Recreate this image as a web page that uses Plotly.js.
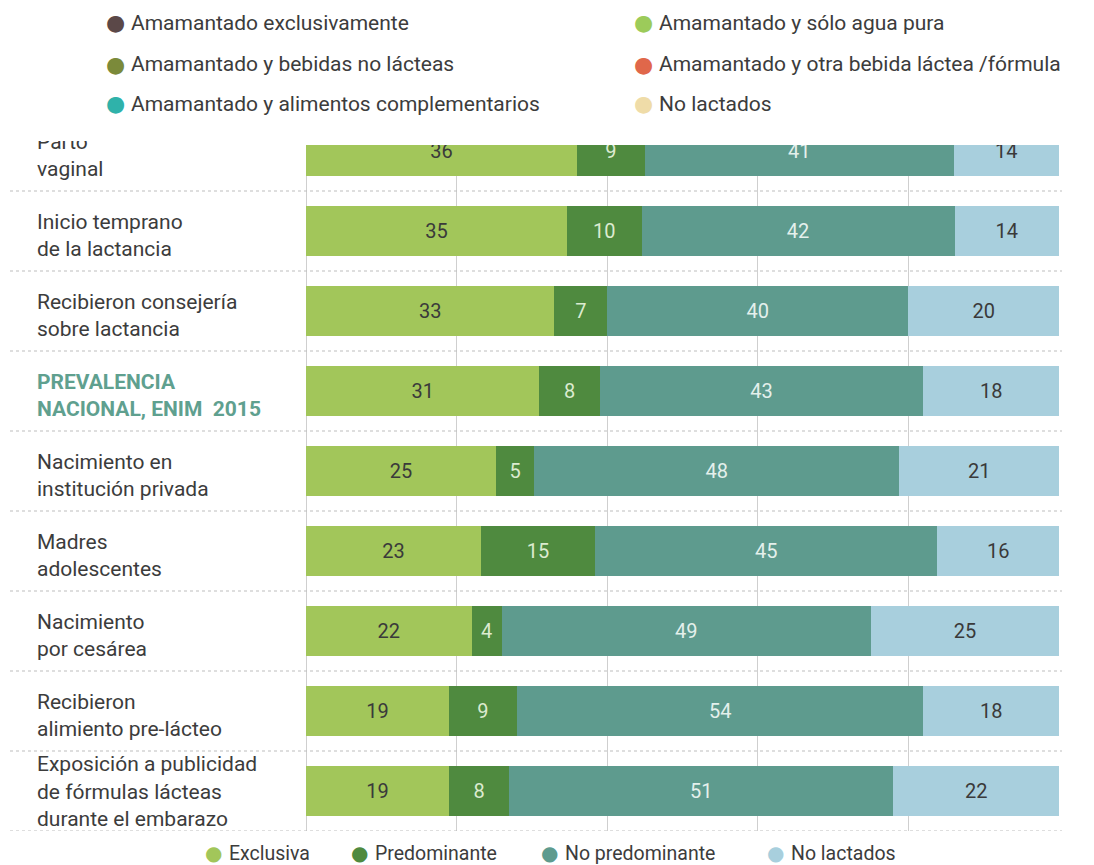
<!DOCTYPE html>
<html>
<head>
<meta charset="utf-8">
<script src="https://cdn.plot.ly/plotly-3.0.1.min.js"></script>
<style>html,body{margin:0;padding:0;background:#fff;}#chart{width:1094px;height:865px;}</style>
</head>
<body>
<div id="chart"></div>
<script>
// ---- data ----
const rowLabels = [
  "Parto<br>vaginal",
  "Inicio temprano<br>de la lactancia",
  "Recibieron consejería<br>sobre lactancia",
  "<b>PREVALENCIA<br>NACIONAL, ENIM  2015</b>",
  "Nacimiento en<br>institución privada",
  "Madres<br>adolescentes",
  "Nacimiento<br>por cesárea",
  "Recibieron<br>alimiento pre-lácteo",
  "Exposición a publicidad<br>de fórmulas lácteas<br>durante el embarazo"
];
const exclusiva      = [36, 35, 33, 31, 25, 23, 22, 19, 19];
const predominante   = [9, 10, 7, 8, 5, 15, 4, 9, 8];
const noPredominante = [41, 42, 40, 43, 48, 45, 49, 54, 51];
const noLactados     = [14, 14, 20, 18, 21, 16, 25, 18, 22];
const seriesNames = ["Exclusiva", "Predominante", "No predominante", "No lactados"];
const topLegendNames = [
  "Amamantado exclusivamente", "Amamantado y sólo agua pura",
  "Amamantado y bebidas no lácteas", "Amamantado y otra bebida láctea /fórmula",
  "Amamantado y alimentos complementarios", "No lactados"
];
const xTicks = [0, 20, 40, 60, 80, 100];

// ---- styling ----
const FONT = "Roboto, 'Noto Sans', sans-serif";
const colors = ["#a2c65a", "#4f8a3f", "#5e9b8e", "#a8cfdd"];
const textColors = ["#3a3a3a", "#dcebd0", "#e4f0ec", "#3a3a3a"];
const topDotColors = ["#5b4848", "#9ccb5a", "#7b8a3a", "#e0674a", "#2fb2aa", "#efdca8"];
const labelColors = rowLabels.map((l, i) => i === 3 ? "#5fa08f" : "#3c3c3c");

const series = [exclusiva, predominante, noPredominante, noLactados];
const totals = exclusiva.map((_, i) => series.reduce((s, a) => s + a[i], 0));
const rows = rowLabels.map((_, i) => i);

// geometry (pixels)
const H = 865, T = 130, B = 34;
const plotH = H - T - B;              // 701
const barTop = 145, labelTop = 141;   // clip tops for bars / labels
const pitch = 80;                     // px per row
const yBottom = 8.5;
const yTopMain = yBottom - (H - B - barTop) / pitch;
const yTopLab = yBottom - (H - B - labelTop) / pitch;
const py = p => (H - B - p) / plotH;
const labelShift = rowLabels.map(l => (l.split("<br>").length > 2 ? 0.03 : 0.08));

const traces = series.map((vals, k) => ({
  type: "bar",
  orientation: "h",
  name: seriesNames[k],
  y: rows,
  x: vals.map((v, i) => v / totals[i] * 100),
  text: vals.map(String),
  texttemplate: "%{text}",
  textposition: "inside",
  insidetextanchor: "middle",
  textangle: 0,
  constraintext: "none",
  textfont: {family: FONT, size: 20, color: textColors[k]},
  marker: {color: colors[k], line: {width: 0}},
  width: 0.625,
  hoverinfo: "skip",
  showlegend: false,
  xaxis: "x",
  yaxis: "y"
}));

traces.push({
  type: "scatter",
  mode: "text",
  x: rows.map(() => 37),
  y: rows.map(i => i + labelShift[i]),
  text: rowLabels,
  textposition: "middle right",
  textfont: {family: FONT, size: 21, color: labelColors},
  hoverinfo: "skip",
  showlegend: false,
  xaxis: "x2",
  yaxis: "y2",
  cliponaxis: true
});

const shapes = [];
for (let i = 0; i < rowLabels.length; i++) {
  shapes.push({type: "line", xref: "x2", yref: "y2", x0: 10, x1: 1062, y0: i + 0.5, y1: i + 0.5,
    line: {color: "#bdbdbd", width: 1, dash: "dot"}, layer: "below"});
}

const annotations = [];
const topRowsY = [23, 64, 104];
topLegendNames.forEach((name, i) => {
  const col = i % 2, row = Math.floor(i / 2);
  const dx = col === 0 ? 115 : 643;
  annotations.push({xref: "x2", yref: "paper", x: dx, y: py(topRowsY[row]), text: "●", showarrow: false,
    xanchor: "center", yanchor: "middle", borderpad: 0, font: {family: "DejaVu Sans", size: 22, color: topDotColors[i]}});
  annotations.push({xref: "x2", yref: "paper", x: dx + 15, y: py(topRowsY[row]), text: name, showarrow: false,
    xanchor: "left", yanchor: "middle", borderpad: 0, font: {family: FONT, size: 21, color: "#3c3c3c"}});
});
const botX = [213, 359, 549, 775];
seriesNames.forEach((name, k) => {
  annotations.push({xref: "x2", yref: "paper", x: botX[k], y: py(853), text: "●", showarrow: false,
    xanchor: "center", yanchor: "middle", borderpad: 0, font: {family: "DejaVu Sans", size: 20, color: colors[k]}});
  annotations.push({xref: "x2", yref: "paper", x: botX[k] + 15, y: py(853), text: name, showarrow: false,
    xanchor: "left", yanchor: "middle", borderpad: 0, font: {family: FONT, size: 19.5, color: "#3c3c3c"}});
});

const layout = {
  width: 1094, height: 865,
  margin: {l: 0, r: 0, t: T, b: B, pad: 0},
  paper_bgcolor: "#ffffff",
  plot_bgcolor: "rgba(0,0,0,0)",
  barmode: "stack",
  bargap: 0,
  showlegend: false,
  font: {family: FONT, size: 20, color: "#3c3c3c"},
  xaxis: {domain: [306 / 1094, 1059 / 1094], range: [0, 100], tickvals: xTicks, showticklabels: false,
    showgrid: true, gridcolor: "#cfcfcf", gridwidth: 1, zeroline: true, zerolinecolor: "#cfcfcf", zerolinewidth: 1,
    showline: false, ticks: "", fixedrange: true, anchor: "y"},
  xaxis2: {domain: [0, 1], range: [0, 1094], visible: false, anchor: "y2", fixedrange: true},
  yaxis: {domain: [0, (H - B - barTop) / plotH], range: [yBottom, yTopMain], anchor: "x",
    showticklabels: false, showgrid: false, zeroline: false, ticks: "", fixedrange: true},
  yaxis2: {domain: [0, (H - B - labelTop) / plotH], range: [yBottom, yTopLab], anchor: "x2",
    visible: false, showgrid: false, zeroline: false, fixedrange: true},
  shapes: shapes,
  annotations: annotations
};

Plotly.newPlot("chart", traces, layout, {displayModeBar: false, staticPlot: true});
</script>
</body>
</html>
